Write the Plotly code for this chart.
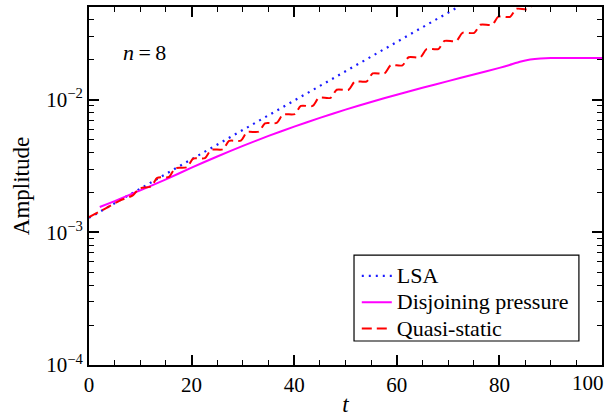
import numpy as np
import plotly.graph_objects as go

# Linear stability analysis prediction (log10 of amplitude)
t_lsa = [0, 10, 20, 30, 40, 50, 60, 70, 75]
log_lsa = [-2.891, -2.670, -2.449, -2.228, -2.007, -1.786, -1.565, -1.344, -1.233]

# Simulation with disjoining pressure
t_dp = [2.1, 5, 8, 10, 15, 20, 25, 30, 35, 40, 45, 50, 55, 60, 65, 70, 75,
        80, 82, 84, 86, 88, 90, 100]
log_dp = [-2.809, -2.765, -2.715, -2.683, -2.600, -2.512, -2.428, -2.348, -2.273,
          -2.203, -2.137, -2.075, -2.017, -1.962, -1.910, -1.860, -1.810, -1.760,
          -1.738, -1.714, -1.697, -1.689, -1.686, -1.686]

# Quasi-static model (stepwise growth)
t_qs = [0, 3, 6, 8.6, 9.8, 12.1, 13.3, 15.6, 16.8, 19.1, 20.3, 22.6, 23.8, 26.1,
        27.3, 29.6, 30.8, 33.1, 34.3, 36.6, 37.8, 40.1, 41.3, 43.6, 44.8, 47.1,
        48.3, 50.6, 51.8, 54.1, 55.3, 57.6, 58.8, 61.1, 62.3, 64.6, 65.8, 68.1,
        69.3, 71.6, 72.8, 75.1, 76.3, 78.6, 79.8, 82.1, 83.3, 85.6, 86.8]
log_qs = [-2.886, -2.824, -2.761, -2.719, -2.670, -2.654, -2.589, -2.582, -2.517,
          -2.509, -2.444, -2.441, -2.378, -2.374, -2.311, -2.308, -2.245, -2.241,
          -2.178, -2.175, -2.112, -2.108, -2.047, -2.047, -1.986, -1.986, -1.925,
          -1.925, -1.864, -1.863, -1.802, -1.802, -1.741, -1.741, -1.680, -1.680,
          -1.619, -1.618, -1.557, -1.557, -1.496, -1.496, -1.435, -1.435, -1.374,
          -1.375, -1.315, -1.317, -1.256]

x_ticks = [0, 20, 40, 60, 80, 100]
# the last label is drawn separately, right-aligned at the page edge
x_ticktext = ["0", "20", "40", "60", "80", ""]
x_minor = [5, 10, 15, 25, 30, 35, 45, 50, 55, 65, 70, 75, 85, 90, 95]
y_ticks = [1e-4, 1e-3, 1e-2]
y_ticktext = ["10<sup>−4</sup>", "10<sup>−3</sup>", "10<sup>−2</sup>"]
y_minor = [m * d for d in (1e-4, 1e-3) for m in range(2, 10)] + [0.02, 0.03, 0.04]

FONT = "Liberation Serif"


def big(s):
    return f'<span style="font-size:22px">{s}</span>'


fig = go.Figure()
fig.add_trace(go.Scatter(
    x=t_lsa, y=10 ** np.array(log_lsa), mode="lines", name=big("LSA"),
    line=dict(color="#1a1aff", width=2.2, dash="2px,5px")))
fig.add_trace(go.Scatter(
    x=t_dp, y=10 ** np.array(log_dp), mode="lines", name=big("Disjoining pressure"),
    line=dict(color="#ff00ff", width=2, shape="spline", smoothing=0.3)))
fig.add_trace(go.Scatter(
    x=t_qs, y=10 ** np.array(log_qs), mode="lines", name=big("Quasi-static"),
    line=dict(color="#ff0000", width=2, dash="10px,5px", shape="spline", smoothing=0.7)))

fig.add_annotation(
    x=0.108, y=0.872, xref="paper", yref="paper", showarrow=False,
    xanchor="center", yanchor="middle",
    text="<i>n</i>\u2009=\u20098", font=dict(family=FONT, size=22, color="black"))

fig.add_annotation(
    x=x_ticks[-1], xref="x", y=0, yref="paper", showarrow=False,
    xanchor="right", yanchor="middle", xshift=4, yshift=-18,
    text=str(x_ticks[-1]), font=dict(family=FONT, size=21, color="black"))

# legend frame
fig.add_shape(type="rect", xref="paper", yref="paper",
              x0=0.5166, x1=0.955, y0=0.067, y1=0.307,
              line=dict(color="black", width=1.2), fillcolor="white", layer="above")

axis_common = dict(
    showline=True, linecolor="black", linewidth=2, mirror="allticks",
    ticks="inside", ticklen=10, tickwidth=1.5, tickcolor="black",
    showgrid=False, zeroline=False, ticklabeloverflow="allow", automargin=False,
    tickfont=dict(family=FONT, size=21, color="black"),
)

fig.update_layout(
    width=605, height=417,
    margin=dict(l=89, r=3, t=7, b=52),
    paper_bgcolor="white", plot_bgcolor="white",
    xaxis=dict(
        range=[0, 100], tickmode="array", tickvals=x_ticks, ticktext=x_ticktext,
        minor=dict(ticks="inside", ticklen=5, tickwidth=1.2, tickcolor="black",
                   tickmode="array", tickvals=x_minor),
        title=dict(text="<i>t</i>", font=dict(family=FONT, size=23, color="black"), standoff=2),
        **axis_common),
    yaxis=dict(
        type="log", range=[-4, np.log10(0.05)], tickmode="array",
        tickvals=y_ticks, ticktext=y_ticktext,
        minor=dict(ticks="inside", ticklen=5, tickwidth=1.2, tickcolor="black",
                   tickmode="array", tickvals=y_minor),
        title=dict(text="Amplitude", font=dict(family=FONT, size=23, color="black"), standoff=10),
        **axis_common),
    legend=dict(
        x=0.522, y=0.30, xanchor="left", yanchor="top",
        bgcolor="rgba(0,0,0,0)", borderwidth=0,
        font=dict(family=FONT, size=18, color="black"),
        tracegroupgap=0, itemwidth=30),
    showlegend=True,
)

fig.write_html("out.html")
